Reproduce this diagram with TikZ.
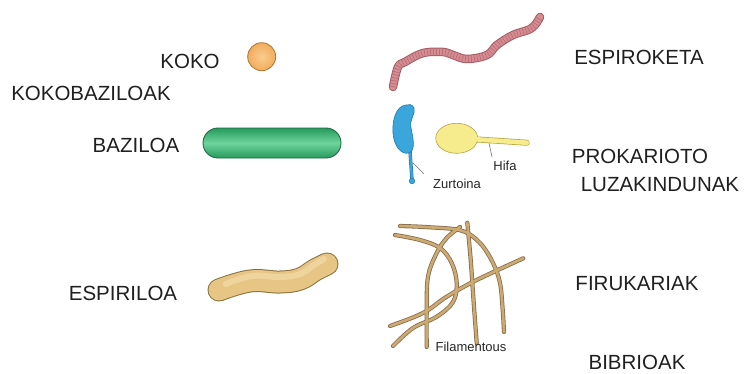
\documentclass[tikz,border=0pt]{standalone}
\usepackage{fontspec}
\setmainfont{Liberation Sans}
\begin{document}
\begin{tikzpicture}[x=1pt,y=-1pt,
  lbl/.style={font=\fontsize{20.5}{24}\selectfont, text=black!88, inner sep=0pt},
  small/.style={font=\fontsize{13}{15}\selectfont, text=black!85, inner sep=0pt},
  leader/.style={draw=black!55, line width=0.6pt},
  filout/.style={draw=brown!55!black!80, line width=4.2pt, line cap=round},
  filin/.style={draw=filtan, line width=2.6pt, line cap=round}]
\definecolor{filtan}{HTML}{CDAA70}
\definecolor{cocco}{HTML}{F2AC5C}
\definecolor{coccolight}{HTML}{F9CC8E}
\definecolor{coccoedge}{HTML}{B07434}
\definecolor{bacdark}{HTML}{279A5C}
\definecolor{baclight}{HTML}{6ED49C}
\definecolor{bacedge}{HTML}{1E6A42}
\definecolor{spirfill}{HTML}{E6C585}
\definecolor{spirlight}{HTML}{EFD49E}
\definecolor{spiredge}{HTML}{8A7040}
\definecolor{chetefill}{HTML}{D68C92}
\definecolor{cheteedge}{HTML}{A35A62}
\definecolor{stalkblue}{HTML}{3AA6DC}
\definecolor{stalkedge}{HTML}{1F78AE}
\definecolor{hyphyellow}{HTML}{F6EC8E}
\definecolor{hyphedge}{HTML}{B5A540}

\useasboundingbox (0,0) rectangle (744,373);

% ---------- labels ----------
\node[lbl] (koko) at (190,61) {KOKO};
\node[lbl] (kokobaz) at (91,93) {KOKOBAZILOAK};
\node[lbl] (baziloa) at (136,145) {BAZILOA};
\node[lbl] (espiriloa) at (123,293) {ESPIRILOA};
\node[lbl] (espiroketa) at (639,57) {ESPIROKETA};
\node[lbl] (prokar) at (640,156) {PROKARIOTO};
\node[lbl] (luzak) at (660,184.5) {LUZAKINDUNAK};
\node[lbl] (firuk) at (637,284) {FIRUKARIAK};
\node[lbl] (bibrio) at (637,362) {BIBRIOAK};

% ---------- coccus ----------
\shade[inner color=coccolight, outer color=cocco] (261.7,56.7) circle (14);
\draw[coccoedge, line width=0.8pt] (261.7,56.7) circle (14);

% ---------- bacillus ----------
\shade[top color=bacdark, bottom color=bacdark, middle color=baclight, rounded corners=15pt]
  (203,128) rectangle (341,158);
\draw[bacedge, line width=0.9pt, rounded corners=15pt] (203,128) rectangle (341,158);

% ---------- spirillum ----------
\draw[spiredge, line width=23pt, line cap=round]
  plot[smooth, tension=0.7] coordinates {(219,290) (250,281) (280,282) (300,279) (315,270) (327,264)};
\draw[spirfill, line width=21pt, line cap=round]
  plot[smooth, tension=0.7] coordinates {(219,290) (250,281) (280,282) (300,279) (315,270) (327,264)};
\draw[spirlight, line width=6pt, line cap=round]
  plot[smooth, tension=0.7] coordinates {(226,284) (252,276) (280,277) (300,274) (314,265) (324,259)};

% ---------- spirochete ----------
\def\chete{(393,87) (398,67) (405,62) (423,53) (443,52) (453,55) (467,59) (487,55) (497,45) (513,35) (528,30) (535,25) (540,17)}
\draw[cheteedge, line width=8.5pt, line cap=round, line join=round]
  plot[smooth, tension=0.6] coordinates {\chete};
\draw[chetefill, line width=6.5pt, line cap=round, line join=round]
  plot[smooth, tension=0.6] coordinates {\chete};
\draw[cheteedge!60!chetefill, line width=6.5pt, dash pattern=on 0.7pt off 2.3pt]
  plot[smooth, tension=0.6] coordinates {\chete};

% ---------- stalked cell ----------
\draw[stalkedge, line width=3.4pt, line cap=round] (410,151) -- (412,180);
\draw[stalkblue, line width=2.2pt, line cap=round] (410,151) -- (412,180);
\fill[stalkblue, draw=stalkedge, line width=0.5pt] (412,181) circle (2.8);
\fill[stalkblue, draw=stalkedge, line width=0.6pt]
  (406,105) .. controls (396,106) and (392,120) .. (393,133)
  .. controls (394,146) and (401,155) .. (409,153)
  .. controls (416,150) and (413,138) .. (411,128)
  .. controls (409,119) and (416,114) .. (414,108)
  .. controls (412,104) and (409,104) .. (406,105) -- cycle;
\coordinate (stalkpt) at (413,163);
\node[small] (zurtoina) at (457,184) {Zurtoina};
\draw[leader] (stalkpt) -- (424,174);

% ---------- hyphal cell ----------
\draw[hyphedge, line width=6pt, line cap=round] (470,139) -- (526.7,142.7);
\draw[hyphyellow, line width=4.6pt, line cap=round] (470,139) -- (526.7,142.7);
\fill[hyphyellow, draw=hyphedge, line width=0.6pt] (456.7,138.3) ellipse (21 and 15);
\fill[hyphyellow] (474,136.8) rectangle (480,141.3);
\coordinate (hyphpt) at (489,143);
\node[small] (hifa) at (505,166) {Hifa};
\draw[leader] (hyphpt) -- (492,157);

% ---------- filamentous ----------
\def\filA{(400,226) (430,227.3) (461.7,230.7) (480,243) (493,263) (500,283) (502.7,310) (504,332)}
\def\filB{(395,235) (420,240) (440,248) (451.7,263) (456.7,283) (453,302) (436.7,316.7) (413,328) (393,346)}
\def\filC{(426.7,347) (426.7,310) (428,276.7) (436.7,253) (446.7,238) (460,227)}
\def\filD{(467.3,222.7) (470.7,260) (473.5,300) (476.7,343)}
\def\filE{(390,326) (423,313) (446.7,296.7) (476.7,280) (523.3,258.3)}
\foreach \f in {\filA,\filB,\filC,\filD,\filE}{
  \draw[filout] plot[smooth, tension=0.6] coordinates {\f};
}
\foreach \f in {\filA,\filB,\filC,\filD,\filE}{
  \draw[filin] plot[smooth, tension=0.6] coordinates {\f};
}
\node[small] (filam) at (471,347) {Filamentous};
\end{tikzpicture}
\end{document}
